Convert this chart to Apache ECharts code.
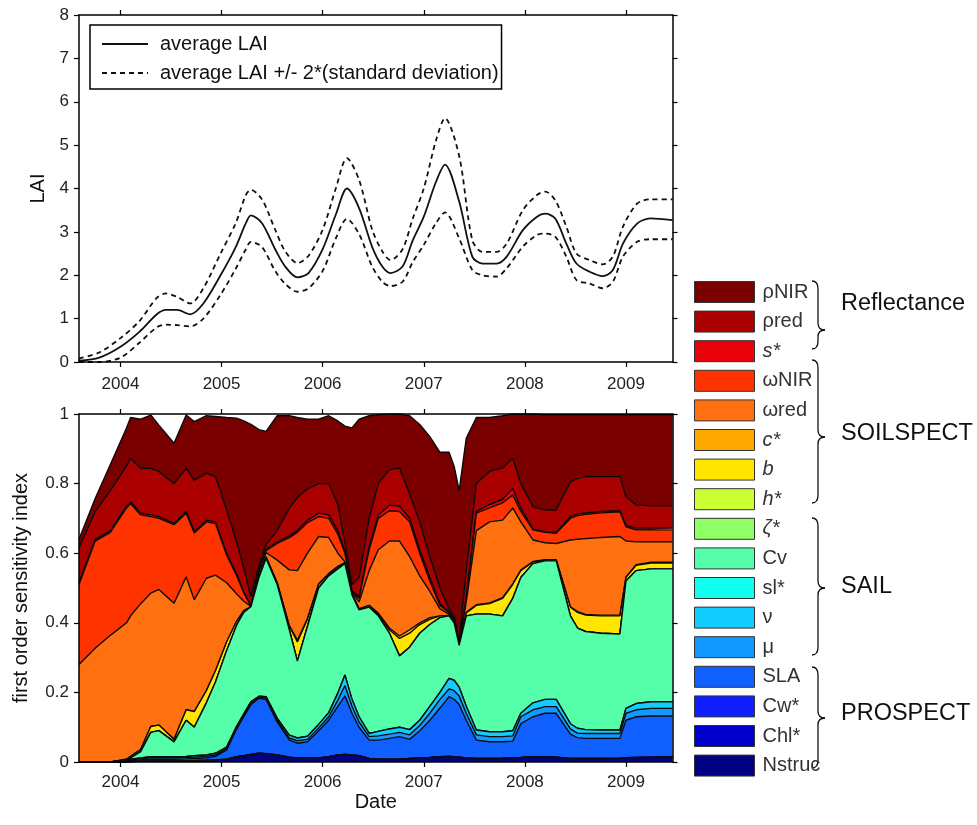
<!DOCTYPE html>
<html><head><meta charset="utf-8">
<script src="https://cdn.jsdelivr.net/npm/echarts@6/dist/echarts.min.js"></script>
<style>html,body{margin:0;padding:0;background:#fff}#c{width:977px;height:825px}</style>
</head><body><div id="c"></div>
<script>
// ---------- tick labels ----------
const yearTicks = [2004, 2005, 2006, 2007, 2008, 2009];

// ---------- top panel: LAI ----------
const laiDates = [2003.59,2003.79,2004.0,2004.19,2004.36,2004.45,2004.56,2004.69,2004.82,2004.99,2005.14,2005.24,2005.29,2005.4,2005.53,2005.63,2005.75,2005.86,2006.0,2006.13,2006.24,2006.36,2006.49,2006.59,2006.67,2006.79,2006.89,2007.0,2007.12,2007.21,2007.35,2007.48,2007.58,2007.72,2007.82,2007.98,2008.12,2008.2,2008.3,2008.41,2008.51,2008.64,2008.77,2008.87,2008.97,2009.11,2009.24,2009.46];
const laiAvg   = [0.03,0.1,0.35,0.7,1.1,1.2,1.2,1.1,1.35,2.0,2.65,3.2,3.38,3.2,2.6,2.2,1.95,2.05,2.6,3.4,4.0,3.55,2.65,2.2,2.05,2.2,2.8,3.35,4.15,4.55,3.7,2.43,2.27,2.27,2.43,3.04,3.35,3.42,3.31,2.73,2.27,2.08,1.98,2.12,2.73,3.19,3.31,3.27];
const laiUpper = [0.08,0.22,0.55,0.95,1.48,1.58,1.5,1.35,1.7,2.5,3.2,3.85,3.97,3.75,3.05,2.55,2.28,2.45,3.05,4.0,4.7,4.2,3.05,2.55,2.35,2.6,3.3,4.0,5.1,5.62,4.75,2.81,2.54,2.54,2.73,3.5,3.85,3.93,3.73,3.12,2.5,2.35,2.25,2.43,3.12,3.65,3.75,3.75];
const laiLower = [0,0,0.1,0.45,0.8,0.86,0.85,0.82,1.0,1.55,2.15,2.6,2.77,2.65,2.1,1.8,1.62,1.7,2.1,2.85,3.3,2.95,2.2,1.85,1.75,1.85,2.3,2.7,3.2,3.45,2.85,2.12,2.0,1.97,2.16,2.66,2.93,2.96,2.89,2.43,1.89,1.81,1.7,1.85,2.43,2.77,2.83,2.83];

// ---------- bottom panel: first order sensitivity indices ----------
const siDates = [2003.59,2003.75,2003.9,2004.06,2004.1,2004.2,2004.3,2004.38,2004.53,2004.65,2004.73,2004.85,2004.94,2005.05,2005.15,2005.22,2005.29,2005.37,2005.44,2005.55,2005.67,2005.75,2005.85,2005.96,2006.06,2006.15,2006.22,2006.29,2006.36,2006.46,2006.55,2006.66,2006.76,2006.86,2006.96,2007.06,2007.16,2007.25,2007.3,2007.35,2007.42,2007.52,2007.65,2007.78,2007.88,2007.96,2008.08,2008.2,2008.31,2008.45,2008.52,2008.6,2008.75,2008.94,2009.0,2009.1,2009.25,2009.46];
const nstruc  = [0,0,0,0,.001,.002,.003,.003,.003,.003,.004,.005,.006,.008,.015,.018,.022,.025,.024,.02,.014,.012,.012,.012,.015,.02,.022,.02,.018,.01,.008,.008,.008,.01,.012,.013,.015,.016,.015,.014,.012,.01,.01,.011,.012,.013,.015,.015,.014,.01,.01,.01,.01,.011,.012,.013,.014,.015];
const chlStar = [0,0,0,0,0,0,0,0,0,0,0,0,0,0,0,0,0,0,0,0,0,0,0,0,0,0,0,0,0,0,0,0,0,0,0,0,0,0,0,0,0,0,0,0,0,0,0,0,0,0,0,0,0,0,0,0,0,0];
const cwStar  = [0,0,0,0,0,0,0,0,0,0,0,0,0,0,0,0,0,0,0,0,0,0,0,0,0,0,0,0,0,0,0,0,0,0,0,0,0,0,0,0,0,0,0,0,0,0,0,0,0,0,0,0,0,0,0,0,0,0];
const sla     = [0,0,0,.002,.003,.004,.005,.005,.005,.006,.006,.007,.01,.027,.08,.112,.143,.158,.156,.095,.049,.042,.046,.078,.105,.14,.168,.12,.082,.053,.055,.06,.065,.055,.078,.107,.14,.172,.165,.151,.108,.053,.048,.047,.048,.097,.115,.125,.126,.07,.06,.058,.058,.057,.108,.117,.118,.117];
const mu      = [0,0,0,.001,.002,.003,.004,.004,.004,.004,.004,.004,.004,.004,.004,.004,.004,.003,.004,.005,.006,.007,.007,.008,.01,.018,.03,.02,.015,.01,.012,.012,.012,.013,.015,.02,.025,.022,.025,.025,.02,.015,.015,.015,.015,.02,.02,.019,.019,.015,.013,.014,.014,.014,.02,.02,.022,.022];
const nu      = [0,0,0,.001,.002,.003,.003,.003,.003,.003,.004,.004,.005,.004,.004,.004,.004,.003,.004,.006,.008,.008,.009,.01,.012,.02,.03,.02,.015,.009,.013,.015,.015,.015,.015,.02,.02,.03,.03,.025,.02,.014,.014,.014,.015,.01,.02,.021,.021,.015,.014,.011,.01,.01,.014,.018,.019,.019];
const slStar  = [0,0,0,0,0,0,0,0,0,0,0,0,0,0,0,0,0,0,0,0,0,0,0,0,0,0,0,0,0,0,0,0,0,0,0,0,0,0,0,0,0,0,0,0,0,0,0,0,0,0,0,0,0,0,0,0,0,0];
const cv      = [0,0,0,.002,.004,.018,.07,.075,.043,.104,.082,.15,.205,.277,.291,.292,.273,.341,.397,.384,.303,.221,.316,.392,.393,.357,.32,.30,.307,.363,.332,.275,.205,.237,.25,.235,.215,.18,.165,.12,.26,.333,.338,.333,.38,.39,.40,.398,.398,.31,.288,.282,.278,.276,.366,.382,.382,.382];
const zetaStar= [0,0,0,0,0,0,0,0,0,0,0,0,0,0,0,0,0,0,0,0,0,0,0,0,0,0,0,0,0,0,0,0,0,0,0,0,0,0,0,0,0,0,0,0,0,0,0,0,0,0,0,0,0,0,0,0,0,0];
const hStar   = [0,0,0,0,0,0,0,0,0,0,0,0,0,0,0,0,0,0,0,0,0,0,0,0,0,0,0,0,0,0,0,0,0,0,0,0,0,0,0,0,0,0,0,0,0,0,0,0,0,0,0,0,0,0,0,0,0,0];
const bVal    = [0,0,0,.002,.004,.006,.017,.016,.007,.03,.045,.035,.032,.025,.011,.005,0,.002,.005,.005,.01,.055,.02,.01,.005,.005,.002,.002,.003,.005,.005,.01,.05,.04,.025,.015,.005,0,0,.001,.008,.025,.03,.05,.04,.02,.005,.002,.002,.025,.045,.047,.05,.052,.01,.015,.017,.017];
const cStar   = [0,0,0,0,0,0,0,0,0,0,0,0,0,0,0,0,0,0,0,0,.002,.005,.003,.002,.002,.002,.001,.001,0,0,.003,.005,.007,.01,.005,.005,0,.001,0,0,.002,.002,.002,.002,.002,.002,.001,.001,.001,.001,.002,.002,.002,.002,.002,.002,.002,.002];
const omegaRed= [.28,.327,.364,.392,.404,.419,.383,.39,.391,.382,.321,.323,.275,.17,.078,.027,.001,.013,.012,.065,.16,.20,.187,.136,.103,.038,.002,.003,.02,.10,.182,.25,.273,.21,.135,.075,.02,.004,.005,.002,.03,.213,.233,.223,.218,.138,.062,.049,.047,.192,.208,.218,.223,.226,.103,.066,.059,.059];
const omegaNIR= [.23,.308,.296,.33,.323,.255,.22,.204,.226,.183,.192,.162,.148,.08,.052,.023,.001,.005,.005,.048,.093,.11,.088,.057,.055,.055,.025,.004,.01,.06,.09,.087,.085,.10,.065,.03,.01,.005,.005,.002,.01,.05,.04,.05,.037,.03,.029,.03,.029,.062,.068,.07,.071,.071,.041,.034,.034,.034];
const sStar   = [.005,.005,.005,.005,.005,.005,.005,.005,.004,.005,.004,.005,.005,.005,.005,.003,.001,.002,.005,.004,.005,.005,.007,.01,.01,.01,.005,.002,.005,.01,.01,.016,.015,.01,.01,.01,.005,.002,.002,.002,.002,.005,.01,.01,.019,.01,.003,.002,.003,.005,.005,.004,.004,.003,.004,.005,.005,.005];
const rhoRed  = [.10,.08,.115,.116,.125,.129,.134,.13,.114,.124,.148,.135,.13,.125,.09,.069,.026,.013,.013,.033,.08,.095,.09,.085,.09,.075,.025,.018,.055,.08,.09,.102,.11,.07,.08,.06,.045,.008,.008,.006,.078,.08,.095,.09,.087,.07,.064,.062,.064,.10,.102,.104,.10,.098,.082,.067,.064,.064];
const rhoNIR  = [.025,.037,.075,.109,.117,.141,.153,.133,.116,.153,.168,.165,.173,.265,.358,.423,.495,.39,.325,.33,.265,.23,.20,.185,.195,.24,.335,.45,.455,.295,.198,.16,.155,.225,.28,.345,.39,.45,.43,.432,.38,.19,.155,.15,.127,.20,.266,.274,.274,.193,.183,.178,.178,.178,.236,.259,.262,.262];

// layer names, bottom of the stack first
const layerNames = ['Nstruc','Chl*','Cw*','SLA','μ','ν','sl*','Cv','ζ*','h*','b','c*','ωred','ωNIR','s*','ρred','ρNIR'];
const layerValues = [nstruc, chlStar, cwStar, sla, mu, nu, slStar, cv, zetaStar, hStar, bVal, cStar, omegaRed, omegaNIR, sStar, rhoRed, rhoNIR];
const layerColors = ['#000080','#0000cc','#0f1fff','#1060ff','#1199ff','#11ccff','#11ffee','#55ffaa','#8fff66','#ccff33','#ffe600','#ffa800','#ff7010','#ff3300','#e8000b','#aa0000','#7a0000'];
const italicNames = {'s*':1,'c*':1,'b':1,'h*':1,'ζ*':1};

const FONT = "'Liberation Sans', Arial, Helvetica, sans-serif";
const X_MIN = 2003.59, X_MAX = 2009.46;

function xAxisDef(gridIndex, pos, showLabels, name, margin) {
  return {
    type: 'value', gridIndex: gridIndex, position: pos, min: X_MIN, max: X_MAX, z: 50,
    name: name || '', nameLocation: 'middle', nameGap: 30,
    nameTextStyle: {fontSize: 20, color: '#111', fontFamily: FONT},
    axisLine: {show: true, onZero: false, lineStyle: {color: '#000', width: 1.5}},
    axisTick: {show: true, inside: false, length: 5, customValues: yearTicks, lineStyle: {color: '#000', width: 1.2}},
    axisLabel: {show: showLabels, customValues: yearTicks, formatter: v => String(Math.round(v)),
      fontSize: 17, color: '#222', fontFamily: FONT, margin: margin || 9},
    splitLine: {show: false}
  };
}
function yAxisDef(gridIndex, pos, max, interval, showLabels, name, nameGap, fmt) {
  return {
    type: 'value', gridIndex: gridIndex, position: pos, min: 0, max: max, interval: interval, z: 50,
    name: name || '', nameLocation: 'middle', nameRotate: 90, nameGap: nameGap || 30,
    nameTextStyle: {fontSize: 20, color: '#111', fontFamily: FONT},
    axisLine: {show: true, onZero: false, lineStyle: {color: '#000', width: 1.5}},
    axisTick: {show: true, inside: false, length: 5, lineStyle: {color: '#000', width: 1.2}},
    axisLabel: {show: showLabels, fontSize: 17, color: '#222', fontFamily: FONT, margin: 10, formatter: fmt},
    splitLine: {show: false}
  };
}

// value first, date second (encode maps them), so that ECharts stacks the value dimension
const siSeries = layerNames.map((nm, i) => ({
  type: 'line', name: nm, xAxisIndex: 2, yAxisIndex: 2, stack: 'si', stackStrategy: 'all',
  data: siDates.map((d, k) => [layerValues[i][k], d]),
  encode: {x: 1, y: 0},
  symbol: 'none', showSymbol: false, color: layerColors[i],
  itemStyle: {color: layerColors[i]},
  lineStyle: {color: '#0a0a0a', width: 1.4},
  areaStyle: {color: layerColors[i], opacity: 1},
  z: 30 - i, emphasis: {disabled: true}
}));

const laiSeries = [
  {type: 'line', name: 'average LAI', xAxisIndex: 0, yAxisIndex: 0,
   data: laiDates.map((d, k) => [d, laiAvg[k]]), smooth: 0.3, symbol: 'none', showSymbol: false,
   color: '#111', lineStyle: {color: '#111', width: 1.8}, z: 5},
  {type: 'line', name: 'average LAI +/- 2*(standard deviation)', xAxisIndex: 0, yAxisIndex: 0,
   data: laiDates.map((d, k) => [d, laiUpper[k]]), smooth: 0.3, symbol: 'none', showSymbol: false,
   color: '#111', lineStyle: {color: '#111', width: 1.8, type: [5, 4]}, z: 5},
  {type: 'line', name: 'average LAI +/- 2*(standard deviation)', xAxisIndex: 0, yAxisIndex: 0,
   data: laiDates.map((d, k) => [d, laiLower[k]]), smooth: 0.3, symbol: 'none', showSymbol: false,
   color: '#111', lineStyle: {color: '#111', width: 1.8, type: [5, 4]}, z: 5}
];

// curly brace built from quadratic curves and straight segments
function brace(y0, y1, ym) {
  const x = 812, v = x + 6, t = x + 13;
  const st = {stroke: '#111', fill: null, lineWidth: 1.3};
  const q = (x1, y1_, cx, cy, x2, y2) => ({type: 'bezierCurve', silent: true,
    shape: {x1: x1, y1: y1_, cpx1: cx, cpy1: cy, x2: x2, y2: y2}, style: st});
  const l = (x1, y1_, x2, y2) => ({type: 'line', silent: true,
    shape: {x1: x1, y1: y1_, x2: x2, y2: y2}, style: st});
  return {type: 'group', silent: true, children: [
    q(x, y0, v, y0, v, y0 + 8),
    l(v, y0 + 8, v, ym - 7),
    q(v, ym - 7, v, ym, t, ym),
    q(t, ym, v, ym, v, ym + 7),
    l(v, ym + 7, v, y1 - 8),
    q(v, y1 - 8, v, y1, x, y1)
  ]};
}
function groupLabel(text, y) {
  return {type: 'text', left: 841, top: y - 13, silent: true,
    style: {text: text, fontSize: 23.5, fill: '#111', fontFamily: FONT}};
}

const chart = echarts.init(document.getElementById('c'), null, {renderer: 'canvas'});
chart.setOption({
  animation: false,
  backgroundColor: '#fff',
  textStyle: {fontFamily: FONT},
  grid: [
    {left: 79, top: 15, width: 593.5, height: 347},
    {left: 79, top: 414, width: 593.5, height: 348}
  ],
  xAxis: [
    xAxisDef(0, 'bottom', true, '', 14),
    xAxisDef(0, 'top', false),
    xAxisDef(1, 'bottom', true, 'Date', 12),
    xAxisDef(1, 'top', false)
  ],
  yAxis: [
    yAxisDef(0, 'left', 8, 1, true, 'LAI', 30, v => String(v)),
    yAxisDef(0, 'right', 8, 1, false),
    yAxisDef(1, 'left', 1, 0.2, true, 'first order sensitivity index', 48, v => String(Math.round(v * 10) / 10)),
    yAxisDef(1, 'right', 1, 0.2, false)
  ],
  legend: [
    {
      data: ['average LAI', 'average LAI +/- 2*(standard deviation)'],
      orient: 'vertical', left: 90, top: 25, padding: [9, 3, 6, 11],
      borderColor: '#000', borderWidth: 1.5, backgroundColor: '#fff',
      itemWidth: 46, itemHeight: 14, itemGap: 9, selectedMode: false,
      itemStyle: {opacity: 0},
      textStyle: {fontSize: 20, lineHeight: 20, color: '#111', fontFamily: FONT, padding: [0, 0, 0, 7]}
    },
    {
      data: layerNames.slice().reverse(),
      orient: 'vertical', left: 694, top: 281, padding: 0,
      itemWidth: 60, itemHeight: 21, itemGap: 7.6, icon: 'rect', selectedMode: false,
      itemStyle: {borderColor: '#333', borderWidth: 1},
      formatter: nm => italicNames[nm] ? '{i|' + nm + '}' : nm,
      textStyle: {fontSize: 20, lineHeight: 21, color: '#333', fontFamily: FONT, padding: [0, 0, 0, 3],
        rich: {i: {fontStyle: 'italic', fontSize: 20, color: '#333', fontFamily: FONT}}}
    }
  ],
  graphic: [
    brace(281, 349, 330), groupLabel('Reflectance', 305),
    brace(360, 503, 437), groupLabel('SOILSPECT', 435),
    brace(518, 655, 588), groupLabel('SAIL', 588),
    brace(667, 768, 718), groupLabel('PROSPECT', 715)
  ],
  series: laiSeries.concat(siSeries)
});
</script>
</body></html>
